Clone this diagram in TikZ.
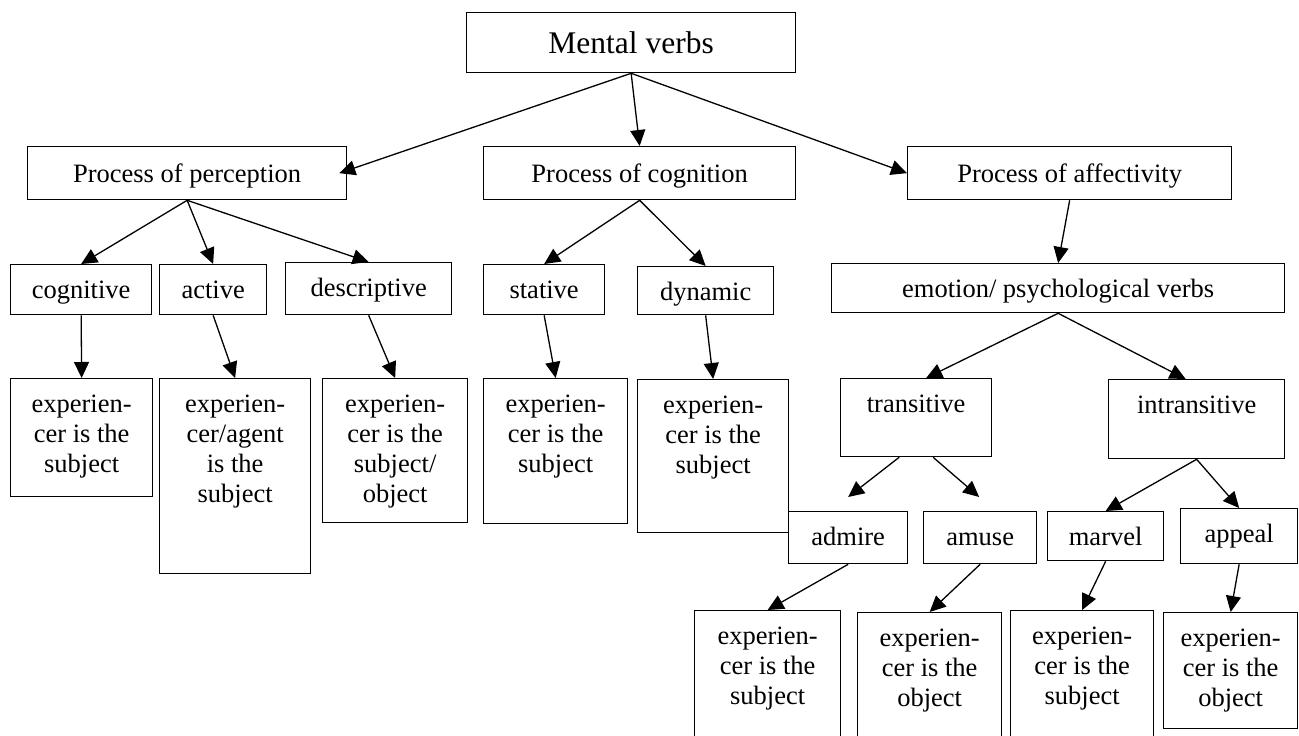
\documentclass[tikz,border=0pt]{standalone}
\usepackage{fontspec}
\setmainfont{Liberation Serif}
\usetikzlibrary{calc}
\usetikzlibrary{arrows.meta}

\newcommand{\boxtxt}[4][13pt]{\parbox[c][#3][t]{#2}{\centering\vspace*{#1}\strut #4}}
\tikzset{
  box/.style={draw, line width=1.3pt, inner sep=0pt, anchor=north west,
    font=\fontsize{26.5}{30}\selectfont},
  arr/.style={-{Triangle[length=16pt,width=15pt]}, line width=1.3pt}
}

\begin{document}
\begin{tikzpicture}[x=1pt,y=-1pt]
\useasboundingbox (0,0) rectangle (1299,736);
\node[box, font=\fontsize{31.5}{36}\selectfont] (mv) at (466,12) {\boxtxt[16pt]{329pt}{60pt}{Mental verbs}};
\node[box] (pp) at (27,146) {\boxtxt[15pt]{319pt}{53pt}{Process of perception}};
\node[box] (pc) at (483,146) {\boxtxt[15pt]{312pt}{53pt}{Process of cognition}};
\node[box] (pa) at (907,146) {\boxtxt[15pt]{324pt}{53pt}{Process of affectivity}};
\node[box] (cog) at (10,264) {\boxtxt{141pt}{50pt}{cognitive}};
\node[box] (act) at (159,264) {\boxtxt{107pt}{50pt}{active}};
\node[box] (des) at (285,262) {\boxtxt{166pt}{52pt}{descriptive}};
\node[box] (sta) at (483,264) {\boxtxt{121pt}{50pt}{stative}};
\node[box] (dyn) at (637,266) {\boxtxt{136pt}{48pt}{dynamic}};
\node[box] (emo) at (831,263) {\boxtxt{453pt}{49pt}{emotion/ psychological verbs}};
\node[box] (e1) at (10,378) {\boxtxt{142pt}{118pt}{experien-\\cer is the\\subject}};
\node[box] (e2) at (159,378) {\boxtxt{151pt}{195pt}{experien-\\cer/agent\\is the\\subject}};
\node[box] (e3) at (322,378) {\boxtxt{145pt}{144pt}{experien-\\cer is the\\subject/\\object}};
\node[box] (e4) at (483,378) {\boxtxt{144pt}{145pt}{experien-\\cer is the\\subject}};
\node[box] (e5) at (637,379) {\boxtxt{151pt}{153pt}{experien-\\cer is the\\subject}};
\node[box] (tr) at (840,378) {\boxtxt{151pt}{78pt}{transitive}};
\node[box] (intr) at (1108,379) {\boxtxt{176pt}{79pt}{intransitive}};
\node[box] (adm) at (788,511) {\boxtxt{119pt}{52pt}{admire}};
\node[box] (amu) at (923,511) {\boxtxt{113pt}{52pt}{amuse}};
\node[box] (mar) at (1047,511) {\boxtxt{116pt}{49pt}{marvel}};
\node[box] (app) at (1180,508) {\boxtxt{117pt}{55pt}{appeal}};
\node[box] (f1) at (694,610) {\boxtxt{146pt}{140pt}{experien-\\cer is the\\subject}};
\node[box] (f2) at (857,612) {\boxtxt{144pt}{140pt}{experien-\\cer is the\\object}};
\node[box] (f3) at (1010,610) {\boxtxt{143pt}{140pt}{experien-\\cer is the\\subject}};
\node[box] (f4) at (1163,612) {\boxtxt{134pt}{116pt}{experien-\\cer is the\\object}};

\draw[arr] (mv.south) -- ($(pp.east)+(-8,0)$);
\draw[arr] (mv.south) -- (pc.north);
\draw[arr] (mv.south) -- (pa.west);
\foreach \a/\b in {pp/cog, pp/act, pp/des, pc/sta, pc/dyn, pa/emo,
  cog/e1, act/e2, des/e3, sta/e4, dyn/e5, intr/mar, intr/app,
  adm/f1, amu/f2, mar/f3, app/f4} {
  \draw[arr] (\a.south) -- (\b.north);
}
\draw[arr] (emo.south) -- ($(tr.north)+(10,0)$);
\draw[arr] (emo.south) -- ($(intr.north)+(-11,0)$);
% these two stop short of the boxes
\draw[arr] ($(tr.south)+(-17,0)$) -- ($(adm.north)+(0,-14)$);
\draw[arr] ($(tr.south)+(17,0)$) -- ($(amu.north)+(-1,-14)$);
\end{tikzpicture}
\end{document}
